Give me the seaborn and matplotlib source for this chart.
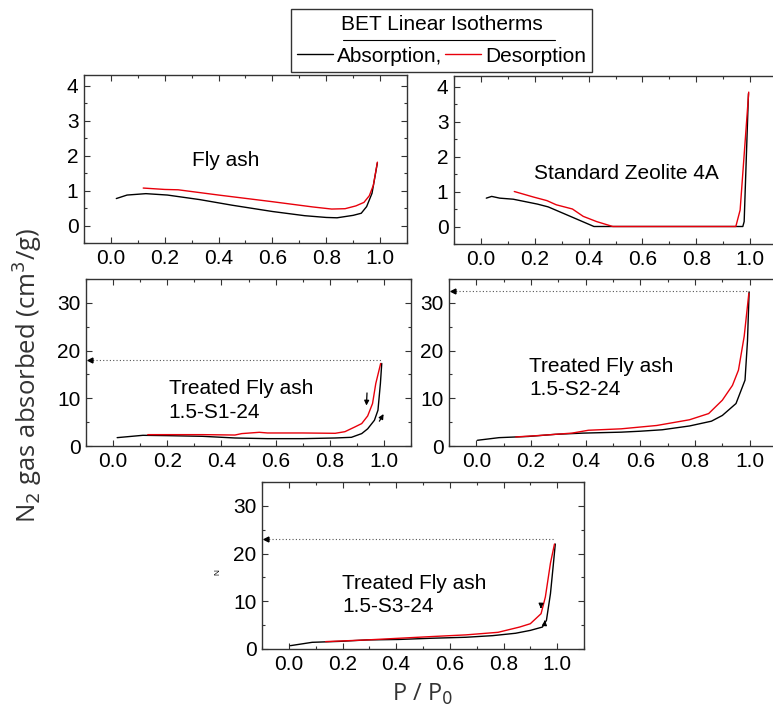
import matplotlib
matplotlib.use("Agg")
import matplotlib.pyplot as plt
from matplotlib.lines import Line2D
from matplotlib.ticker import MultipleLocator
import pandas as pd
import seaborn as sns

# P/P0 and adsorbed volume, one pair of branches per sample
fa_ads_x = [0.02, 0.06, 0.13, 0.21, 0.33, 0.45, 0.60, 0.72, 0.80, 0.84, 0.90, 0.93, 0.95, 0.97, 0.99]
fa_ads_y = [0.77, 0.87, 0.91, 0.87, 0.74, 0.58, 0.40, 0.28, 0.23, 0.22, 0.29, 0.35, 0.54, 0.92, 1.79]
fa_des_x = [0.12, 0.20, 0.25, 0.40, 0.60, 0.75, 0.82, 0.87, 0.91, 0.94, 0.96, 0.975, 0.99]
fa_des_y = [1.07, 1.03, 1.02, 0.87, 0.68, 0.53, 0.47, 0.48, 0.56, 0.66, 0.85, 1.15, 1.81]

ze_ads_x = [0.02, 0.04, 0.07, 0.12, 0.21, 0.25, 0.32, 0.42, 0.60, 0.80, 0.973, 0.978, 0.994]
ze_ads_y = [0.81, 0.86, 0.81, 0.78, 0.64, 0.56, 0.33, 0.0, 0.0, 0.0, 0.0, 0.14, 3.8]
ze_des_x = [0.124, 0.196, 0.245, 0.28, 0.34, 0.38, 0.43, 0.49, 0.70, 0.947, 0.963, 0.995]
ze_des_y = [1.0, 0.84, 0.74, 0.62, 0.5, 0.29, 0.14, 0.0, 0.0, 0.0, 0.47, 3.84]

s1_ads_x = [0.015, 0.11, 0.20, 0.33, 0.45, 0.57, 0.70, 0.82, 0.88, 0.918, 0.94, 0.965, 0.978, 0.987, 0.992]
s1_ads_y = [1.75, 2.24, 2.17, 2.03, 1.68, 1.54, 1.54, 1.68, 1.82, 2.6, 3.6, 5.4, 7.5, 13.1, 17.3]
s1_des_x = [0.128, 0.20, 0.33, 0.45, 0.475, 0.54, 0.57, 0.70, 0.82, 0.856, 0.893, 0.918, 0.94, 0.958, 0.97, 0.988]
s1_des_y = [2.38, 2.38, 2.38, 2.3, 2.6, 2.87, 2.73, 2.73, 2.66, 3.0, 4.0, 4.7, 6.3, 8.9, 13.1, 17.3]

s2_ads_x = [0.004, 0.083, 0.19, 0.29, 0.39, 0.53, 0.60, 0.68, 0.78, 0.86, 0.90, 0.95, 0.983, 0.992, 0.998]
s2_ads_y = [1.2, 1.75, 2.0, 2.45, 2.7, 2.9, 3.1, 3.4, 4.2, 5.2, 6.4, 8.9, 13.8, 22.0, 32.3]
s2_des_x = [0.144, 0.23, 0.35, 0.41, 0.53, 0.66, 0.78, 0.85, 0.90, 0.937, 0.959, 0.98, 0.997]
s2_des_y = [1.9, 2.2, 2.7, 3.3, 3.6, 4.3, 5.5, 6.8, 9.6, 12.7, 15.9, 23.0, 32.0]

s3_ads_x = [0.006, 0.087, 0.19, 0.29, 0.41, 0.53, 0.66, 0.76, 0.845, 0.90, 0.945, 0.96, 0.975, 0.985, 0.993]
s3_ads_y = [0.7, 1.4, 1.6, 1.9, 2.0, 2.25, 2.46, 2.8, 3.3, 3.9, 4.6, 6.0, 11.6, 17.3, 22.0]
s3_des_x = [0.137, 0.29, 0.41, 0.53, 0.66, 0.78, 0.86, 0.90, 0.94, 0.956, 0.975, 0.99]
s3_des_y = [1.55, 1.9, 2.25, 2.6, 2.96, 3.5, 4.6, 5.3, 7.4, 10.9, 18.0, 22.0]

sample_names = ["Fly ash", "Standard Zeolite 4A", "Treated Fly ash\n1.5-S1-24",
                "Treated Fly ash\n1.5-S2-24", "Treated Fly ash\n1.5-S3-24"]
max_levels = [None, None, 18.1, 32.5, 23.0]   # dotted "max uptake" guides

sns.set_style("ticks")
plt.rcParams["font.family"] = ["Liberation Sans", "DejaVu Sans"]
plt.rcParams["axes.edgecolor"] = "#333333"
plt.rcParams["text.color"] = "black"

fig = plt.figure(figsize=(7.73, 7.13), dpi=100)
W, H = 773, 713


def box(left, top, width_px, height_px):
    return [left / W, 1 - (top + height_px) / H, width_px / W, height_px / H]


positions = [box(84, 75, 323, 168), box(454, 76, 323, 168),
             box(86, 279, 325, 167), box(449, 279, 328, 167),
             box(262, 482, 322, 167)]
series = [(fa_ads_x, fa_ads_y, fa_des_x, fa_des_y),
          (ze_ads_x, ze_ads_y, ze_des_x, ze_des_y),
          (s1_ads_x, s1_ads_y, s1_des_x, s1_des_y),
          (s2_ads_x, s2_ads_y, s2_des_x, s2_des_y),
          (s3_ads_x, s3_ads_y, s3_des_x, s3_des_y)]
label_pos = [(0.30, 1.86), (0.196, 1.52), (0.205, 9.5), (0.193, 14.3), (0.199, 11.3)]

axes = []
for i, (pos, (ax_x, ax_y, de_x, de_y)) in enumerate(zip(positions, series)):
    ax = fig.add_axes(pos)
    df = pd.concat([
        pd.DataFrame({"p": ax_x, "v": ax_y, "branch": "Absorption"}),
        pd.DataFrame({"p": de_x, "v": de_y, "branch": "Desorption"}),
    ])
    sns.lineplot(data=df, x="p", y="v", hue="branch", estimator=None,
                 palette={"Absorption": "black", "Desorption": "#e8000b"},
                 linewidth=1.0, legend=False, ax=ax)
    ax.set_xlim(-0.1, 1.1)
    if i < 2:
        ax.set_ylim(-0.5, 4.3)
        ax.yaxis.set_major_locator(MultipleLocator(1))
        ax.yaxis.set_minor_locator(MultipleLocator(0.5))
    else:
        ax.set_ylim(0, 35)
        ax.yaxis.set_major_locator(MultipleLocator(10))
        ax.yaxis.set_minor_locator(MultipleLocator(5))
    ax.xaxis.set_major_locator(MultipleLocator(0.2))
    ax.xaxis.set_minor_locator(MultipleLocator(0.1))
    ax.tick_params(which="both", direction="in", top=True, right=True,
                   labelsize=15, width=0.8, colors="#333333", labelcolor="black", pad=4)
    ax.tick_params(which="major", length=4)
    ax.tick_params(which="minor", length=2)
    ax.set_xlabel("")
    ax.set_ylabel("")
    for sp in ax.spines.values():
        sp.set_linewidth(1.0)
    if i in (1, 3):
        # these two run off the right edge of the page in the reference
        ax.spines["right"].set_visible(False)
        ax.tick_params(which="both", right=False)
    lx, ly = label_pos[i]
    ax.text(lx, ly, sample_names[i], fontsize=15, ha="left", va="center", linespacing=1.3)
    if max_levels[i] is not None:
        lvl = max_levels[i]
        ax.plot([-0.1, 0.99], [lvl, lvl], ls=(0, (1, 2)), color="#555555", lw=0.8)
        ax.plot([-0.085], [lvl], marker="<", ms=3.5, color="black")
    axes.append(ax)

# direction arrows
arrow = dict(arrowstyle="-|>", color="black", lw=0.9, mutation_scale=7)
axes[2].annotate("", xy=(0.935, 7.9), xytext=(0.938, 11.7), arrowprops=arrow)
axes[2].annotate("", xy=(1.004, 7.2), xytext=(0.978, 4.7), arrowprops=arrow)
axes[4].annotate("", xy=(0.939, 7.9), xytext=(0.940, 9.4), arrowprops=arrow)
axes[4].annotate("", xy=(0.955, 6.6), xytext=(0.953, 5.2), arrowprops=arrow)

axes[4].set_xlabel("P / P$_0$", fontsize=17, family="Open Sans", color="#333333", labelpad=6)
fig.text(0.035, 0.474, "N$_2$ gas absorbed (cm$^3$/g)", rotation=90, fontsize=18.5,
         family="Open Sans", color="#333333", ha="center", va="center")
fig.text(218 / W, 1 - 572 / H, "N", rotation=90, fontsize=6, ha="center", va="center")

handles = [Line2D([], [], color="black", lw=1.0), Line2D([], [], color="#e8000b", lw=1.0)]
leg = fig.legend(handles, ["Absorption,", "Desorption"], loc="upper left",
                 bbox_to_anchor=(291 / W, 1 - 9 / H), ncol=2, title="BET Linear Isotherms",
                 fontsize=15, title_fontsize=15, frameon=True, fancybox=False,
                 edgecolor="#333333", framealpha=1, handlelength=1.7, handletextpad=0.2,
                 columnspacing=0.15, borderpad=0.3, labelspacing=0.6, borderaxespad=0)
leg.get_frame().set_linewidth(1.0)
fig.add_artist(Line2D([343 / W, 555 / W], [1 - 40 / H, 1 - 40 / H],
                      transform=fig.transFigure, color="black", lw=0.8, zorder=10))

fig.savefig("out.png", dpi=100)
